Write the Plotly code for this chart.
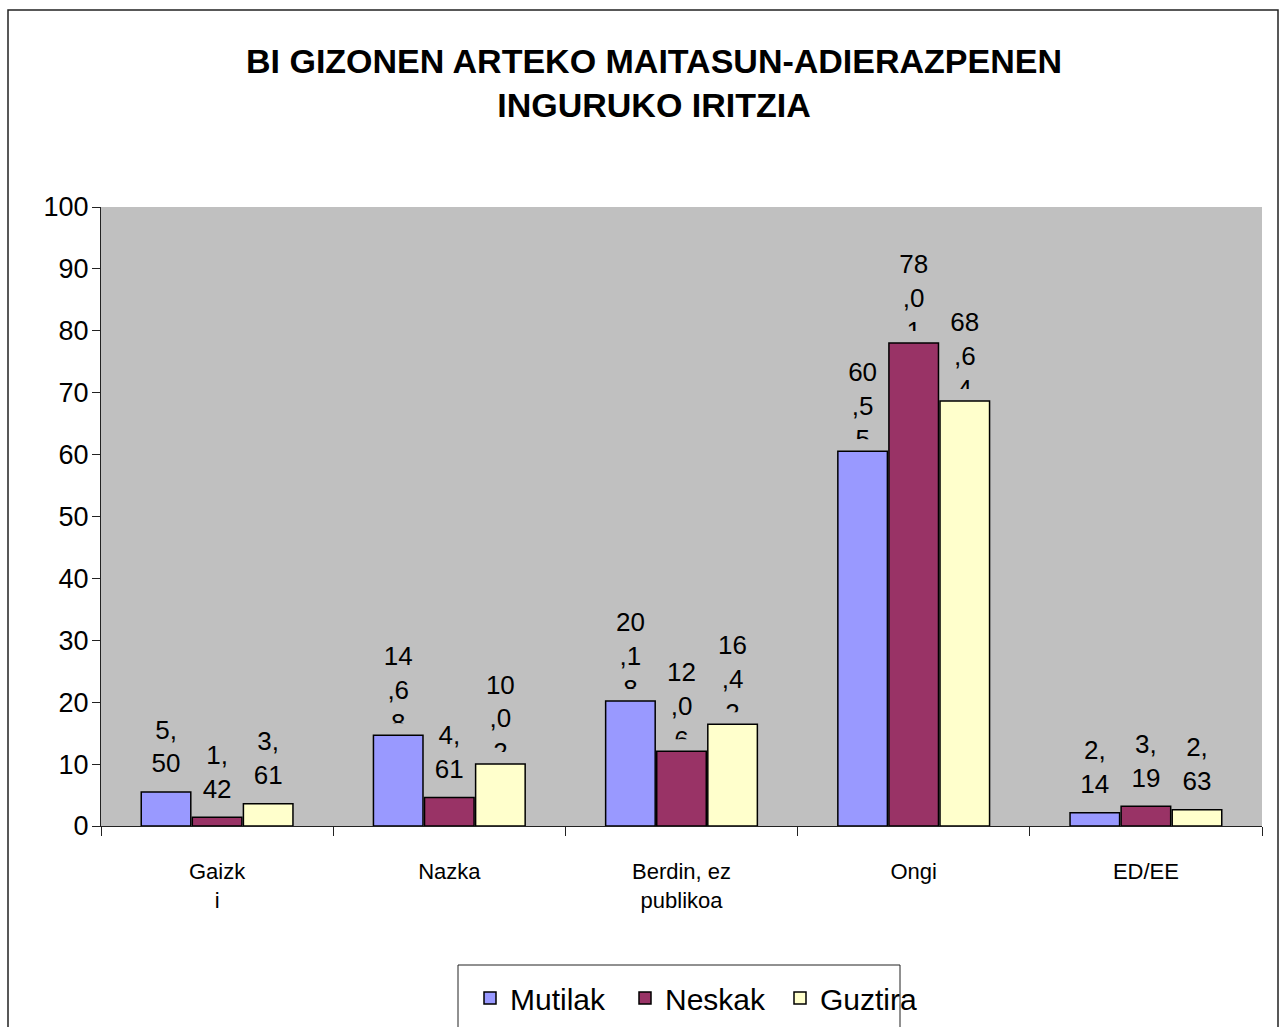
import plotly.graph_objects as go

# ---- data ----
categories = ["Gaizk<br>i", "Nazka", "Berdin, ez<br>publikoa", "Ongi", "ED/EE"]
series_names = ["Mutilak", "Neskak", "Guztira"]
mutilak = [5.50, 14.68, 20.18, 60.55, 2.14]
neskak = [1.42, 4.61, 12.06, 78.01, 3.19]
guztira = [3.61, 10.02, 16.42, 68.64, 2.63]
colors = ["#9999FF", "#993366", "#FFFFCC"]
y_ticks = list(range(0, 101, 10))

FONT = "Liberation Sans, Arial, sans-serif"
PLOT_BG = "#C0C0C0"
W, H = 1280, 1027
L, R, T, B = 101, 18, 207, 201
plot_w, plot_h = W - L - R, H - T - B

def px_x(p):
    return (p - L) / plot_w

def px_y(p):
    return (H - B - p) / plot_h

bargap = 0.34
bargroupgap = 0.03
slot = (1 - bargap) / 3
y_range = [0, 100]
units_per_px = (y_range[1] - y_range[0]) / plot_h
label_lift = 43 * units_per_px   # label block centre above bar top
clip_lift = 12 * units_per_px    # label box bottom (text clipped below it)

def wrap(v):
    s = f"{v:.2f}".replace(".", ",")
    return "<br>".join(s[i:i + 2] for i in range(0, len(s), 2))

idx = list(range(len(categories)))
fig = go.Figure()

all_series = [mutilak, neskak, guztira]
# labels on the base subplot
for k, (name, vals) in enumerate(zip(series_names, all_series)):
    fig.add_trace(go.Scatter(
        x=[i + (k - 1) * slot for i in idx], y=vals,
        mode="text", text=[wrap(v) for v in vals],
        textposition="middle center",
        textfont=dict(family=FONT, size=26, color="black"),
        showlegend=False, hoverinfo="skip",
        xaxis="x", yaxis="y"))

# background-coloured boxes that clip the overflowing label lines
for k, (name, vals) in enumerate(zip(series_names, all_series)):
    fig.add_trace(go.Bar(
        x=idx, y=vals, name=name + " clip", showlegend=False,
        marker=dict(color=PLOT_BG, line=dict(width=0)),
        hoverinfo="skip", xaxis="x", yaxis="y2"))

# the real bars
for k, (name, vals) in enumerate(zip(series_names, all_series)):
    fig.add_trace(go.Bar(
        x=idx, y=vals, name=name,
        marker=dict(color=colors[k], line=dict(color="black", width=1.5)),
        xaxis="x", yaxis="y3"))

fig.update_layout(
    width=W, height=H,
    margin=dict(l=L, r=R, t=T, b=B, autoexpand=False),
    paper_bgcolor="white", plot_bgcolor=PLOT_BG,
    barmode="group", bargap=bargap, bargroupgap=bargroupgap,
    font=dict(family=FONT, color="black"),
    title=dict(text="BI GIZONEN ARTEKO MAITASUN-ADIERAZPENEN<br>INGURUKO IRITZIA",
               font=dict(family=FONT, size=34, color="black", weight="bold"),
               x=654 / W, xanchor="center", xref="container",
               y=1 - 73 / H, yanchor="middle", yref="container"),
    xaxis=dict(range=[-0.5, len(categories) - 0.5], tickmode="array",
               tickvals=idx, ticktext=categories, ticks="",
               tickfont=dict(family=FONT, size=22, color="black"),
               showline=True, linecolor="#222", linewidth=1,
               showgrid=False, zeroline=False, ticklabelstandoff=26,
               minor=dict(tick0=-0.5, dtick=1, ticks="outside", ticklen=9,
                          tickcolor="#222", tickwidth=1, showgrid=False)),
    yaxis=dict(range=[y_range[0] - label_lift, y_range[1] - label_lift],
               visible=False, showgrid=False, zeroline=False),
    yaxis2=dict(range=[y_range[0] - clip_lift, y_range[1] - clip_lift],
                overlaying="y", visible=False, showgrid=False, zeroline=False),
    yaxis3=dict(range=y_range, overlaying="y", side="left", anchor="x",
                tickmode="array", tickvals=y_ticks,
                ticks="outside", ticklen=8, tickcolor="#222",
                tickfont=dict(family=FONT, size=27, color="black"),
                showline=True, linecolor="#222", linewidth=1,
                showgrid=False, zeroline=False, ticklabelstandoff=-2),
    legend=dict(orientation="h", x=px_x(470), xanchor="left",
                y=px_y(998), yanchor="middle",
                font=dict(family=FONT, size=30, color="black"),
                bgcolor="rgba(0,0,0,0)", borderwidth=0,
                entrywidth=110, entrywidthmode="pixels"),
    shapes=[
        dict(type="rect", xref="paper", yref="paper",
             x0=px_x(8), x1=px_x(1278), y0=px_y(1045), y1=px_y(10),
             line=dict(color="#222", width=1.5), fillcolor="rgba(0,0,0,0)",
             layer="below"),
        dict(type="rect", xref="paper", yref="paper",
             x0=px_x(458), x1=px_x(900), y0=px_y(1045), y1=px_y(965),
             line=dict(color="#222", width=1), fillcolor="rgba(0,0,0,0)",
             layer="above"),
    ],
)

fig.write_html("out.html", config={"displayModeBar": False},
               post_script="document.body.style.margin='0';")
